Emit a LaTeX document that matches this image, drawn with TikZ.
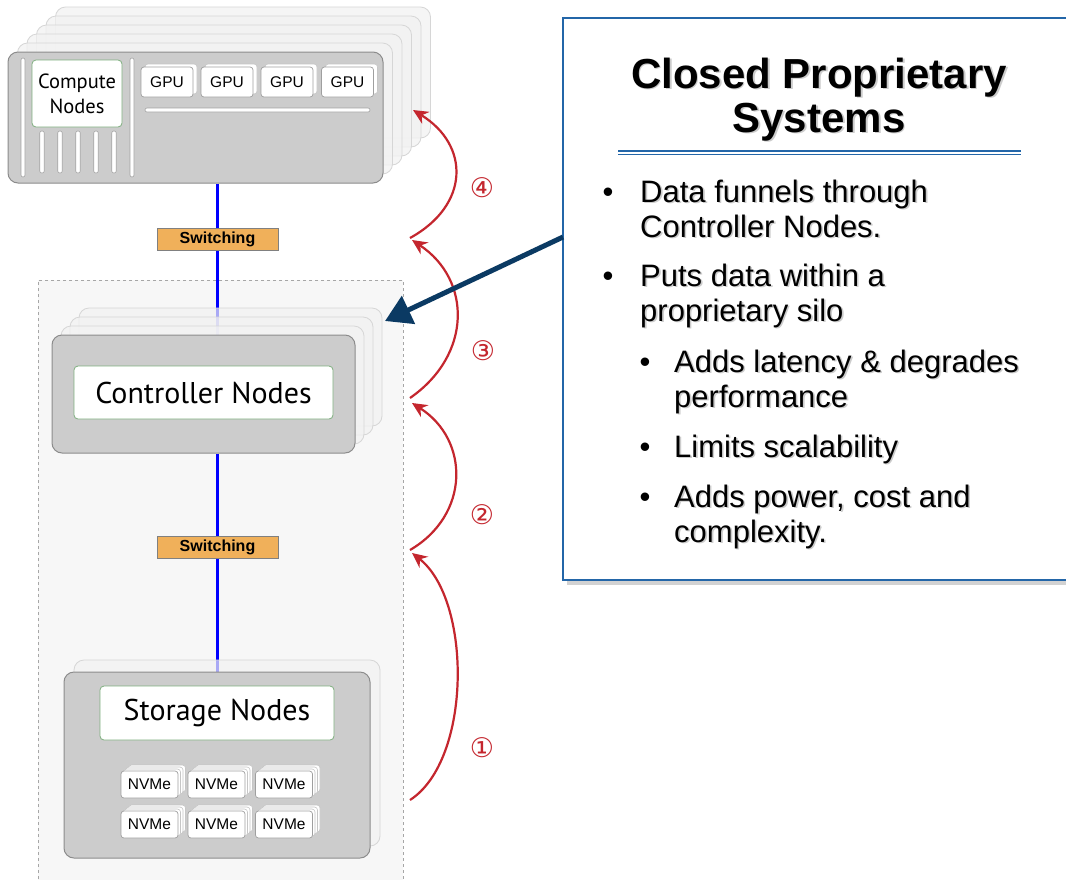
\documentclass[tikz,border=0pt]{standalone}
\usepackage{fontspec}
\setmainfont{Liberation Sans}
\newfontfamily\myr{PT Sans}
\newfontfamily\djv{DejaVu Sans}
\usetikzlibrary{arrows.meta,shadows}
\definecolor{boxgray}{HTML}{CCCCCC}
\definecolor{edgegray}{HTML}{8C8C8C}
\definecolor{ghost}{HTML}{F2F2F2}
\definecolor{ghostedge}{HTML}{D6D6D6}
\definecolor{lblgreen}{HTML}{7FAF7F}
\definecolor{swfill}{HTML}{F0B05A}
\definecolor{arcred}{HTML}{C4262E}
\definecolor{navy}{HTML}{0B3A63}
\definecolor{frameblue}{HTML}{2366A8}
\definecolor{linkblue}{HTML}{0000FF}
\definecolor{rackfill}{HTML}{F7F7F7}
\pgfdeclarelayer{back}
\pgfdeclarelayer{mid}
\pgfsetlayers{back,mid,main}
\newcommand\sline[4]{%
  \node[txt, text=black!20] (#1s) at ({#2+1.6},{#3+1.6}) {#4};
  \node[txt] (#1) at (#2,#3) {#4};}
\newcommand\stitle[4]{%
  \node[ttl, text=black!20] (#1s) at ({#2+1.8},{#3+1.8}) {#4};
  \node[ttl] (#1) at (#2,#3) {#4};}
\begin{document}
\begin{tikzpicture}[x=1pt,y=-1pt,
  unit/.style={draw=edgegray, fill=boxgray, rounded corners=10pt, line width=1pt, inner sep=0},
  ghostbox/.style={draw=ghostedge, fill=ghost, fill opacity=0.7, rounded corners=10pt, line width=0.8pt, inner sep=0},
  lbl/.style={draw=lblgreen, fill=white, rounded corners=4pt, line width=0.8pt, inner sep=0, font=\myr\fontsize{30}{31}\selectfont},
  chip/.style={draw=gray!75, fill=white, rounded corners=3pt, line width=0.7pt, inner sep=0, font=\fontsize{15.5}{15.5}\selectfont},
  chipghost/.style={draw=gray!45, fill=white, rounded corners=3pt, line width=0.6pt, inner sep=0},
  bar/.style={draw=edgegray!80, fill=white, rounded corners=2pt, line width=0.6pt, inner sep=0},
  switchbox/.style={draw=gray, fill=swfill, line width=0.6pt, inner sep=0, minimum width=121pt, minimum height=22pt, font=\bfseries\fontsize{16}{16}\selectfont},
  flow/.style={arcred, line width=2.2pt, -{Stealth[length=15pt,width=14pt]}},
  link/.style={linkblue, line width=3pt},
  txt/.style={anchor=base west, inner sep=0, font=\fontsize{31}{36}\selectfont},
  ttl/.style={anchor=base, inner sep=0, font=\bfseries\fontsize{42}{45}\selectfont},
  dot/.style={anchor=base, inner sep=0, font=\fontsize{31}{36}\selectfont},
  num/.style={inner sep=0, text=arcred, font=\djv\fontsize{27}{27}\selectfont}]
\useasboundingbox (0,0) rectangle (1066,879);

% background and rack container
\begin{pgfonlayer}{back}
\fill[white] (0,0) rectangle (1066,879);
\node[draw=gray!70, dashed, fill=rackfill, line width=0.7pt, minimum width=365pt, minimum height=606pt, inner sep=0] (rack) at (220.5,583) {};
\end{pgfonlayer}

% ---------- compute stack ----------
\foreach \k in {5,4,3,2,1}
  \node[ghostbox, minimum width=375pt, minimum height=131pt] (cg\k) at ({195.5+9.5*\k},{117.5-9*\k}) {};
\node[unit, minimum width=375pt, minimum height=131pt] (compute) at (195.5,117.5) {};
\node[bar, minimum width=4pt, minimum height=119pt] (vb1) at (23,117.5) {};
\node[bar, minimum width=4pt, minimum height=119pt] (vb2) at (132,117.5) {};
\node[draw=lblgreen, fill=white, rounded corners=4pt, line width=0.8pt, inner sep=0,
      minimum width=90pt, minimum height=67pt, align=center,
      font=\myr\fontsize{20.5}{25}\selectfont] (cn) at (77,93.5) {Compute\\Nodes};
\foreach \x [count=\i] in {42,60,78,96,114}
  \node[bar, minimum width=4.5pt, minimum height=42pt] (sb\i) at (\x,152) {};
\foreach \x [count=\i] in {167,227,287,347.5}{
  \node[chipghost, minimum width=52pt, minimum height=30pt] (gg\i) at ({\x+4},79) {};
  \node[chip, minimum width=52pt, minimum height=30pt] (gpu\i) at (\x,82) {GPU};
}
\node[bar, minimum width=225pt, minimum height=4pt] (hb) at (257.5,110) {};

% ---------- controller stack ----------
\foreach \k in {3,2,1}
  \node[ghostbox, minimum width=303pt, minimum height=118pt] (kg\k) at ({203.5+9*\k},{394-9*\k}) {};
\node[unit, minimum width=303pt, minimum height=118pt] (ctrl) at (203.5,394) {};
\node[lbl, minimum width=259pt, minimum height=53pt] (ctrllbl) at (203.5,392.5) {Controller Nodes};

% ---------- storage stack ----------
\node[ghostbox, minimum width=306pt, minimum height=186pt] (sg) at (227,753) {};
\node[unit, minimum width=306pt, minimum height=186pt] (store) at (217,765) {};
\node[lbl, minimum width=234pt, minimum height=54pt] (storelbl) at (217,713) {Storage Nodes};
\foreach \y [count=\r] in {784.5,824.5}
  \foreach \x [count=\c] in {149.5,216.5,284}{
    \foreach \k in {3,2,1}
      \node[chipghost, minimum width=57pt, minimum height=27pt] (ng\r\c\k) at ({\x+2.5*\k},{\y-2*\k}) {};
    \node[chip, minimum width=57pt, minimum height=27pt] (nvme\r\c) at (\x,\y) {NVMe};
  }

% ---------- switching + links ----------
\node[switchbox] (sw1) at (217.5,239) {Switching};
\node[switchbox] (sw2) at (217.5,547) {Switching};
\begin{pgfonlayer}{mid}
\draw[link] (sw1 |- compute.south) -- (sw1) -- (sw1 |- ctrl.north);
\draw[link] (sw2 |- ctrl.south) -- (sw2) -- (sw2 |- store.north);
\end{pgfonlayer}

% ---------- red flow arcs ----------
\coordinate (a1s) at (410,800); \coordinate (a1e) at (412,553);
\coordinate (a2s) at (410,550); \coordinate (a2e) at (412,403);
\coordinate (a3s) at (410,398); \coordinate (a3e) at (412,240);
\coordinate (a4s) at (410,238); \coordinate (a4e) at (413,110);
\draw[flow] (a1s) .. controls (472,760) and (472,600) .. (a1e);
\draw[flow] (a2s) .. controls (470,515) and (470,440) .. (a2e);
\draw[flow] (a3s) .. controls (472,355) and (472,280) .. (a3e);
\draw[flow] (a4s) .. controls (470,205) and (470,145) .. (a4e);
\node[num] (n1) at (482,748) {①};
\node[num] (n2) at (482,515) {②};
\node[num] (n3) at (483,351) {③};
\node[num] (n4) at (482,188) {④};

% ---------- text panel ----------
\node[draw=frameblue, line width=1.5pt, fill=white, inner sep=0,
      minimum width=507pt, minimum height=562pt,
      drop shadow={shadow xshift=4pt, shadow yshift=-5pt, opacity=0.35}] (panel) at (816.5,299) {};
\coordinate (aimfrom) at (563,237);
\coordinate (aimto) at (385,321);
\draw[navy, line width=5pt, -{Triangle[length=26pt,width=30pt]}] (aimfrom) -- (aimto);

\stitle{t1}{819}{88}{Closed Proprietary}
\stitle{t2}{819}{132}{Systems}
\draw[frameblue, line width=1.4pt] (618,151) -- (1021,151);
\draw[frameblue, line width=1.4pt] (618,154.5) -- (1021,154.5);

\node[dot] (d1) at (608,202) {•};
\node[dot] (d2) at (608,286) {•};
\node[dot] (d3) at (645,372) {•};
\node[dot] (d4) at (645,457) {•};
\node[dot] (d5) at (645,507) {•};
\sline{l1}{640}{202}{Data funnels through}
\sline{l2}{640}{237}{Controller Nodes.}
\sline{l3}{640}{286}{Puts data within a}
\sline{l4}{640}{321}{proprietary silo}
\sline{l5}{674}{372}{Adds latency \& degrades}
\sline{l6}{674}{407}{performance}
\sline{l7}{674}{457}{Limits scalability}
\sline{l8}{674}{507}{Adds power, cost and}
\sline{l9}{674}{542}{complexity.}
\end{tikzpicture}
\end{document}
